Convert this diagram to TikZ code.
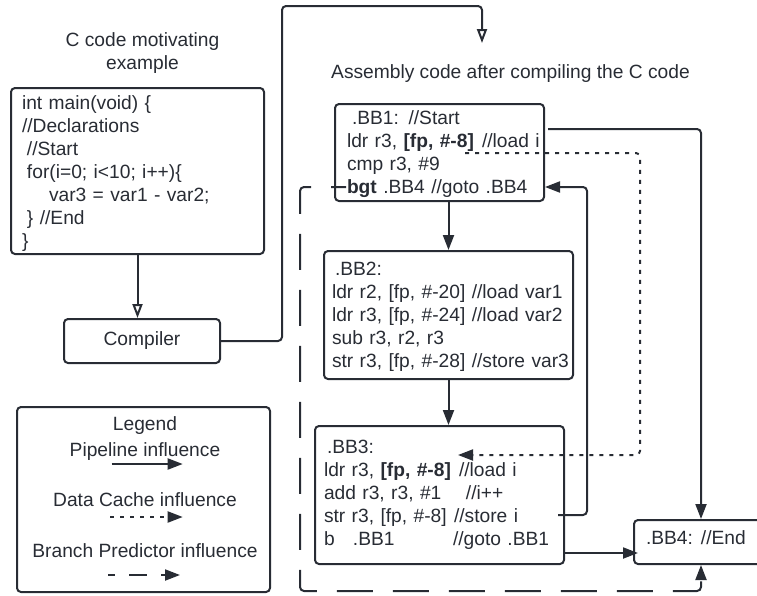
\documentclass[tikz,border=0pt]{standalone}
\usepackage{fontspec}
\setmainfont{Liberation Sans}
\usetikzlibrary{arrows.meta}
\definecolor{ink}{RGB}{40,44,52}
\newcommand{\pad}[1]{\leftskip=#1pt\relax\noindent}
\newcommand{\tops}[1]{\rule{0pt}{#1pt}}
\newcommand{\bots}[1]{\rule[-#1pt]{0pt}{#1pt}\par}

\begin{document}
\begin{tikzpicture}[x=1pt, y=-1pt, color=ink, line width=2pt,
  font=\fontsize{19.2}{23}\selectfont,
  codebox/.style={draw, rounded corners=4pt, anchor=north west, align=left, inner sep=0pt},
  plainbox/.style={draw, rounded corners=4pt, inner sep=0pt},
  flow/.style={-{Triangle[length=15pt,width=11pt]}, rounded corners=4pt},
  compile/.style={-{Triangle[open,length=14pt,width=10pt]}, rounded corners=4pt},
  cache/.style={flow, dash pattern=on 4pt off 6pt},
  branch/.style={flow, dash pattern=on 36pt off 20pt, dash phase=21pt}]
\clip (0,0) rectangle (757,595);

% C side
\node[align=center] (ctitle) at (142.5,53.5) {C code motivating\\example};
\node[codebox, text width=253pt] (cbox) at (10,87) {\pad{11}\tops{21}int main(void) \{\\
//Declarations\\
\hspace*{5pt}//Start\\
\hspace*{5pt}for(i=0; i<10; i++)\{\\
\hspace*{27pt}var3 = var1 - var2;\\
\hspace*{5pt}\} //End\\
\}\bots{7}};
\node[plainbox, minimum width=156pt, minimum height=44pt] (compiler) at (142,341) {Compiler};

% assembly side
\node[anchor=base] (atitle) at (510.5,78) {Assembly code after compiling the C code};
\node[codebox, text width=209pt] (bb1) at (334,103) {\pad{12}\tops{20}\hspace*{5pt}.BB1: //Start\\
\makebox[135pt][l]{ldr r3, \textbf{[fp, \#-8]}}//load i\\
cmp r3, \#9\\
\textbf{bgt} .BB4 //goto .BB4\bots{8}};
\node[codebox, text width=249pt] (bb2) at (323,250) {\pad{8}\tops{24}\hspace*{3pt}.BB2:\\
ldr r2, [fp, \#-20] //load var1\\
ldr r3, [fp, \#-24] //load var2\\
sub r3, r2, r3\\
str r3, [fp, \#-28] //store var3\bots{12}};
\node[codebox, text width=249pt] (bb3) at (314,425) {\pad{9}\tops{27}\hspace*{3pt}.BB3:\\
\makebox[135pt][l]{ldr r3, \textbf{[fp, \#-8]}}//load i\\
\makebox[142pt][l]{add r3, r3, \#1}//i++\\
\makebox[130pt][l]{str r3, [fp, \#-8]}//store i\\
\makebox[29pt][l]{b}\makebox[100pt][l]{.BB1}//goto .BB1\bots{19}};
\node[codebox, text width=134pt] (bb4) at (633,519) {\pad{12}\tops{24}.BB4:\hspace{8pt}//End\bots{20}};

% legend
\node[plainbox, minimum width=253pt, minimum height=185pt] (legend) at (143.5,499.5) {};
\node[anchor=base] (lgtitle) at (145,430) {Legend};
\node[anchor=base] (lgpipe) at (145,456) {Pipeline influence};
\node[anchor=base] (lgcache) at (145,506) {Data Cache influence};
\node[anchor=base] (lgbranch) at (145,557) {Branch Predictor influence};

\coordinate (p1) at (111.7,464);
\coordinate (p2) at (182.7,464);
\coordinate (c1) at (110,517);
\coordinate (c2) at (182.7,517);
\coordinate (q1) at (108,575);
\coordinate (q2) at (180,575);
\draw[flow] (p1) -- (p2);
\draw[cache] (c1) -- (c2);
\draw[flow, dash pattern=on 18pt off 14pt, dash phase=11pt] (q1) -- (q2);

% connectors
\coordinate (up) at (282,6);
\coordinate (asmin) at (482,43);
\coordinate (b1out) at (548,129);
\coordinate (ld1) at (465,153);
\coordinate (cturn) at (640,153);
\coordinate (ld3) at (458,455);
\coordinate (st3) at (558,515);
\coordinate (bturn) at (587,187);
\coordinate (b1in) at (545,187);
\coordinate (b3out) at (563,553);
\coordinate (bgt) at (346,187);
\coordinate (bdown) at (300,591);

\draw[compile] (cbox.south) -- (cbox.south |- compiler.north);
\draw[compile] (compiler.east) -| (up) -| (asmin);
\draw[flow] (bb2.north |- bb1.south) -- (bb2.north);
\draw[flow] (bb2.south) -- (bb2.south |- bb3.north);
\draw[flow] (b1out) -| (bb4.north);
\draw[cache] (ld1) -- (cturn) |- (ld3);
\draw[flow] (st3) -| (bturn) -- (b1in);
\draw[flow, shorten >=-5pt] (b3out) -- (b3out -| bb4.west);
\draw[branch] (bgt) -| (bdown) -| (bb4.south);
\end{tikzpicture}
\end{document}
